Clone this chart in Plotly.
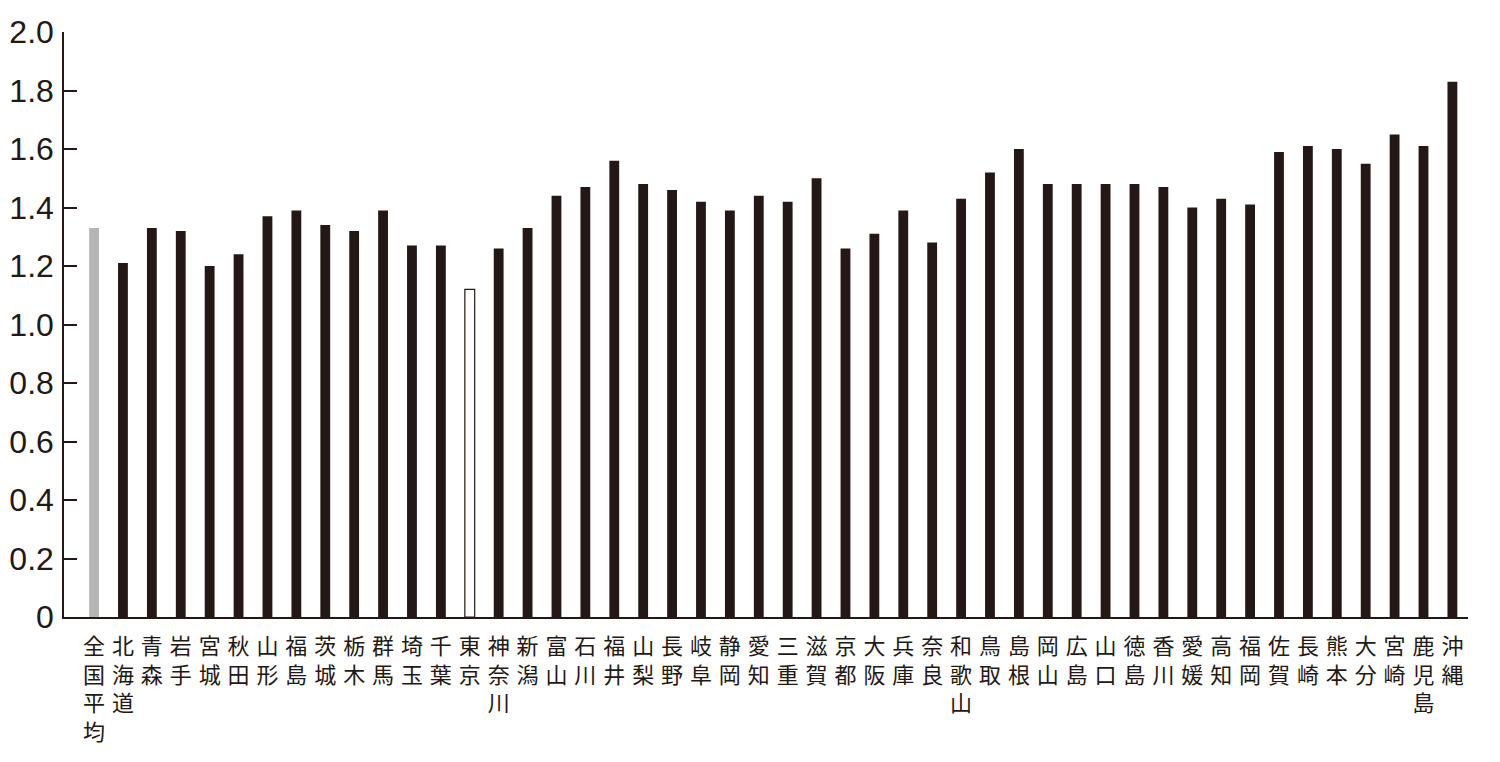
import plotly.graph_objects as go

# prefectures (全国平均 first)
prefs = ["全国平均", "北海道", "青森", "岩手", "宮城", "秋田", "山形", "福島",
         "茨城", "栃木", "群馬", "埼玉", "千葉", "東京", "神奈川", "新潟",
         "富山", "石川", "福井", "山梨", "長野", "岐阜", "静岡", "愛知",
         "三重", "滋賀", "京都", "大阪", "兵庫", "奈良", "和歌山", "鳥取",
         "島根", "岡山", "広島", "山口", "徳島", "香川", "愛媛", "高知",
         "福岡", "佐賀", "長崎", "熊本", "大分", "宮崎", "鹿児島", "沖縄"]
values = [1.33, 1.21, 1.33, 1.32, 1.20, 1.24, 1.37, 1.39,
          1.34, 1.32, 1.39, 1.27, 1.27, 1.12, 1.26, 1.33,
          1.44, 1.47, 1.56, 1.48, 1.46, 1.42, 1.39, 1.44,
          1.42, 1.50, 1.26, 1.31, 1.39, 1.28, 1.43, 1.52,
          1.60, 1.48, 1.48, 1.48, 1.48, 1.47, 1.40, 1.43,
          1.41, 1.59, 1.61, 1.60, 1.55, 1.65, 1.61, 1.83]

y_ticks = [0, 0.2, 0.4, 0.6, 0.8, 1.0, 1.2, 1.4, 1.6, 1.8, 2.0]
y_ticktext = ["0", "0.2", "0.4", "0.6", "0.8", "1.0", "1.2", "1.4", "1.6", "1.8", "2.0"]

ink = "#231815"

colors = []
line_w = []
for p in prefs:
    if p == "全国平均":
        colors.append("#b5b5b5")
        line_w.append(0)
    elif p == "東京":
        colors.append("#ffffff")
        line_w.append(1.2)
    else:
        colors.append(ink)
        line_w.append(0)

x_idx = list(range(len(prefs)))
# vertical (stacked) labels
labels = ["<br>".join(list(p)) for p in prefs]

fig = go.Figure()
fig.add_trace(go.Bar(
    x=x_idx, y=values, width=0.34,
    marker=dict(color=colors, line=dict(color=ink, width=line_w)),
    showlegend=False, hoverinfo="x+y",
))

# page body adds an 8px offset, margins compensate for it
fig.update_layout(
    width=1500, height=762,
    margin=dict(l=56, r=40, t=24, b=153),
    paper_bgcolor="white", plot_bgcolor="white",
    font=dict(family="Liberation Sans, Arial, sans-serif", color=ink),
    xaxis=dict(
        tickmode="array", tickvals=x_idx, ticktext=labels,
        range=[-1.04, 47.54], showline=True, linecolor=ink, linewidth=1.5,
        ticks="", showgrid=False, zeroline=False, automargin=False,
        tickfont=dict(family="Noto Sans CJK JP", size=22, color=ink),
        tickangle=0, ticklabelstandoff=9,
    ),
    yaxis=dict(
        range=[0, 2.0], tickmode="array", tickvals=y_ticks, ticktext=y_ticktext,
        showline=True, linecolor=ink, linewidth=1.5,
        ticks="inside", ticklen=13, tickwidth=1.5, tickcolor=ink,
        showgrid=False, zeroline=False, automargin=False,
        tickfont=dict(family="Liberation Sans, Arial", size=32, color=ink),
        ticklabelstandoff=2,
    ),
)

fig.write_html("out.html")
